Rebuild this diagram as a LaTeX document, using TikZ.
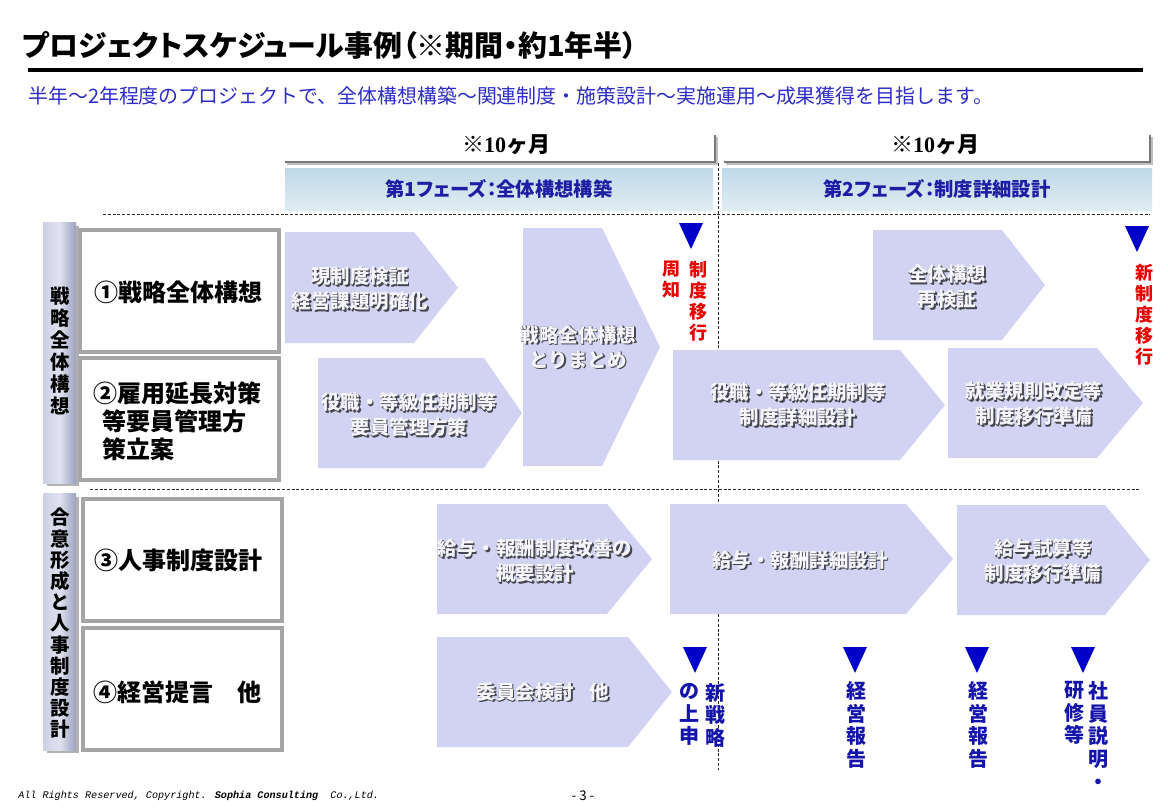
\documentclass[tikz,border=0pt]{standalone}
\usepackage{fontspec}
\setmainfont{Noto Sans CJK JP}
\newfontfamily\jp{Noto Sans CJK JP}
\newfontfamily\jpp{Noto Sans CJK JP}[RawFeature=+palt]
\newfontfamily\serifb{Liberation Serif}
\newfontfamily\monof{Liberation Mono}
\definecolor{arrowc}{RGB}{210,210,242}
\definecolor{phtop}{RGB}{192,217,231}
\definecolor{phbot}{RGB}{224,236,243}
\definecolor{barl}{RGB}{205,208,226}
\definecolor{barm}{RGB}{224,226,240}
\definecolor{barr}{RGB}{155,160,190}
\definecolor{boxc}{RGB}{165,165,165}
\definecolor{subblue}{RGB}{45,45,200}
\definecolor{phblue}{RGB}{30,30,165}
\definecolor{redc}{RGB}{232,0,0}
\definecolor{tric}{RGB}{0,0,200}
\definecolor{blue4}{RGB}{20,20,170}
\definecolor{shadowc}{RGB}{70,70,80}
\definecolor{brk}{RGB}{120,120,120}
\definecolor{txtc}{RGB}{245,245,250}
\newcommand\stxt[4]{%
  \node[atxt,text=shadowc] at (#2+1.6,#3+1.6) {#4};
  \node[atxt,text=shadowc] at (#2+0.8,#3+0.8) {#4};
  \node[atxt,text=txtc] (#1) at (#2,#3) {#4};}
\newcommand\chev[6]{% name x1 y1 xb xt y2
  \fill[arrowc] (#2,#3) -- (#4,#3) -- (#5,{(#3+#6)/2}) -- (#4,#6) -- (#2,#6) -- cycle;
  \coordinate (#1) at (#5,{(#3+#6)/2});}
\newcommand\tri[3]{%
  \coordinate (#1) at (#2,#3);
  \fill[tric] (#2-12,#3) -- (#2+12,#3) -- (#2,#3+26) -- cycle;}
\begin{document}
\begin{tikzpicture}[x=0.75pt,y=-0.75pt,
  atxt/.style={font=\jp\bfseries\fontsize{14.6}{18.75}\selectfont, align=center, inner sep=0},
  vred/.style={text=redc, font=\jp\bfseries\fontsize{13.5}{15.75}\selectfont, align=center, inner sep=0, anchor=north},
  vblue/.style={text=blue4, font=\jp\bfseries\fontsize{15}{17}\selectfont, align=center, inner sep=0, anchor=north},
  lbl/.style={font=\jp\bfseries\fontsize{18}{21}\selectfont, inner sep=0},
  boxst/.style={draw=boxc, line width=2.6pt, fill=white},
  dline/.style={draw=black!85, line width=0.7pt, dash pattern=on 2.2pt off 1.4pt},
  phasetxt/.style={text=phblue, font=\jpp\bfseries\fontsize{14.5}{16}\selectfont, inner sep=0},
  hdr/.style={font=\bfseries\fontsize{16.5}{19}\selectfont, inner sep=0},
  vbar/.style={font=\jp\bfseries\fontsize{14.6}{16.5}\selectfont, align=center, inner sep=0, anchor=north}]
\useasboundingbox (0,0) rectangle (1168,808);
\fill[white] (0,0) rectangle (1168,808);

% title
\node[anchor=west, inner sep=0, font=\jpp\bfseries\fontsize{21.7}{25}\selectfont] (title) at (22,45) {プロジェクトスケジュール事例（※期間・約1年半）};
\draw[line width=3pt] (28,70) -- (1143,70);
\node[anchor=west, inner sep=0, text=subblue, font=\jp\fontsize{14.95}{17}\selectfont] (sub) at (28,96) {半年～2年程度のプロジェクトで、全体構想構築～関連制度・施策設計～実施運用～成果獲得を目指します。};

% headers
\node[hdr] (h1) at (506,145) {\jp ※\serifb 10\jp ヶ月};
\node[hdr] (h2) at (935,145) {\jp ※\serifb 10\jp ヶ月};
\draw[black!25, line width=2pt] (287,164) -- (717,164) -- (717,137);
\draw[brk, line width=2pt] (285,162) -- (715,162) -- (715,135);
\draw[black!25, line width=2pt] (726,164) -- (1152,164) -- (1152,137);
\draw[brk, line width=2pt] (724,162) -- (1150,162) -- (1150,135);

\shade[top color=phtop, bottom color=phbot] (285,168) rectangle (713,210);
\shade[top color=phtop, bottom color=phbot] (722,168) rectangle (1152,210);
\node[phasetxt] (p1) at (499,189) {第1フェーズ：全体構想構築};
\node[phasetxt] (p2) at (937,189) {第2フェーズ：制度詳細設計};

% dashed lines
\draw[dline] (103,214) -- (1150,214);
\draw[dline] (90,489) -- (1140,489);
\draw[dline] (718,163) -- (718,770);

% left bars
\fill[black!30] (47,226) rectangle (79,486);
\shade[left color=barl, right color=barr, middle color=barm] (43,222) rectangle (76,483);
\node[vbar] (b1) at (60,287) {戦\\略\\全\\体\\構\\想};
\fill[black!30] (47,497) rectangle (79,753);
\shade[left color=barl, right color=barr, middle color=barm] (43,493) rectangle (76,750);
\node[vbar, font=\jp\bfseries\fontsize{14.6}{15.9}\selectfont] (b2) at (60,508) {合\\意\\形\\成\\と\\人\\事\\制\\度\\設\\計};

% label boxes
\draw[boxst] (80,230) rectangle (279,352);
\draw[boxst] (80,358) rectangle (279,480);
\draw[boxst] (83,499) rectangle (282,621);
\draw[boxst] (83,628) rectangle (282,750);
\node[lbl] (l1) at (178,292) {①戦略全体構想};
\node[lbl, anchor=north west, align=left] (l2) at (93,381) {②雇用延長対策\\\hspace{7pt}等要員管理方\\\hspace{7pt}策立案};
\node[lbl] (l3) at (178,560) {③人事制度設計};
\node[lbl, anchor=west] (l4) at (93,692) {④経営提言\hspace{18pt}他};

% arrows
\chev{a1}{285}{232}{414}{458}{343}
\chev{a2}{318}{358}{484}{522}{468}
\chev{a3}{523}{228}{602}{660}{466}
\chev{a4}{873}{230}{1002}{1045}{340}
\chev{a5}{673}{350}{900}{945}{460}
\chev{a6}{948}{348}{1097}{1143}{458}
\chev{a7}{437}{504}{607}{652}{614}
\chev{a8}{670}{504}{906}{953}{614}
\chev{a9}{957}{505}{1105}{1150}{615}
\chev{a10}{437}{637}{628}{672}{747}

\stxt{t1}{360}{289}{現制度検証\\経営課題明確化}
\stxt{t2}{409}{415}{役職・等級任期制等\\要員管理方策}
\stxt{t3}{578}{347}{戦略全体構想\\とりまとめ}
\stxt{t4}{947}{287}{全体構想\\再検証}
\stxt{t5}{798}{405}{役職・等級任期制等\\制度詳細設計}
\stxt{t6}{1034}{404}{就業規則改定等\\制度移行準備}
\stxt{t7}{535}{561}{給与・報酬制度改善の\\概要設計}
\stxt{t8}{800}{560}{給与・報酬詳細設計}
\stxt{t9}{1043}{561}{給与試算等\\制度移行準備}
\stxt{t10}{543}{692}{委員会検討\hspace{12pt}他}

% milestones
\tri{m1}{691}{223}
\node[vred] (r1) at (698,261) {制\\度\\移\\行};
\node[vred] (r2) at (671,261) {周\\知};
\tri{m2}{1137}{226}
\node[vred] (r3) at (1144,264) {新\\制\\度\\移\\行};
\tri{m3}{695}{647}
\node[vblue] (s1) at (715,683) {新\\戦\\略};
\node[vblue] (s2) at (689,683) {の\\上\\申};
\tri{m4}{855}{647}
\node[vblue] (s3) at (856,681) {経\\営\\報\\告};
\tri{m5}{977}{647}
\node[vblue] (s4) at (978,681) {経\\営\\報\\告};
\tri{m6}{1083}{647}
\node[vblue] (s5) at (1098,681) {社\\員\\説\\明\\・};
\node[vblue] (s6) at (1074,681) {研\\修\\等};

% footer
\node[anchor=west, inner sep=0, font=\monof\itshape\fontsize{7.6}{9}\selectfont] (foot) at (18,796) {All Rights Reserved, Copyright. \textbf{Sophia Consulting}\ \ Co.,Ltd.};
\node[inner sep=0, font=\jp\fontsize{10}{12}\selectfont] (pg) at (583,796) {-\ 3\ -};
\end{tikzpicture}
\end{document}
